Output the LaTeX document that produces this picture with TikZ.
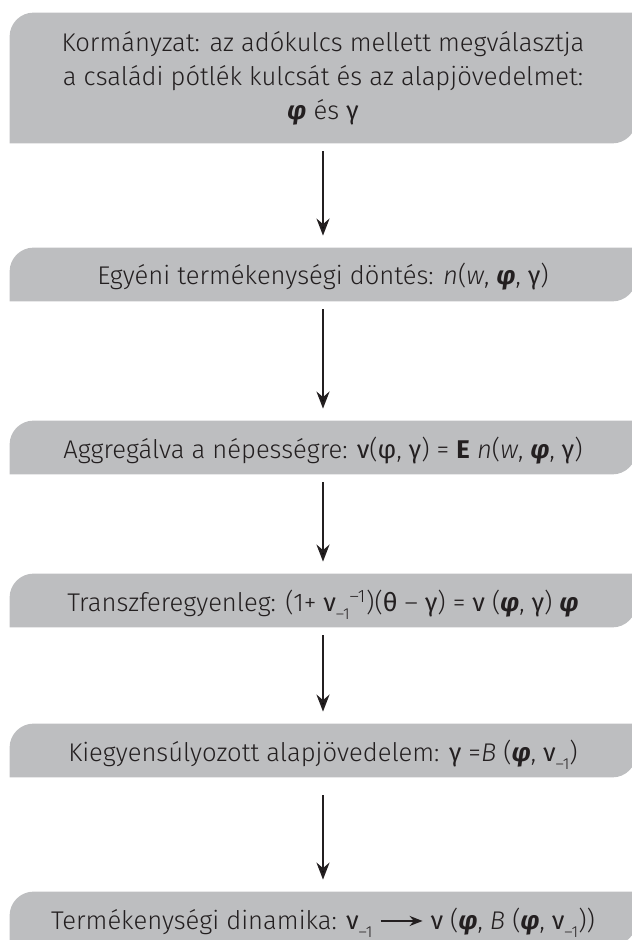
\documentclass[tikz,border=0pt]{standalone}
\usepackage{fontspec}
\setmainfont{Fira Sans}[UprightFont={* Light}, ItalicFont={* Light Italic},
  BoldFont={* Bold}, BoldItalicFont={* Bold Italic}]
\newfontfamily\grk{Fira Sans}
\usetikzlibrary{arrows.meta, backgrounds}
\definecolor{boxgray}{HTML}{BDBEC0}
\definecolor{ink}{HTML}{231F20}
\tikzset{
  box/.style={minimum width=313pt, inner sep=0pt, align=center, text=ink,
    font=\fontsize{12.8}{17}\selectfont},
  oneline/.style={minimum height=26.5pt, text height=12.5pt, text depth=2pt},
  arrow/.style={draw=ink, line width=1.15pt, -{Stealth[length=8.5pt, width=6.5pt]},
    shorten <=4pt, shorten >=6pt}
}
\newcommand{\phib}{{\bfseries\itshape φ}}
\newcommand{\gam}{{\grk γ}}
\newcommand{\nuu}{{\grk ν}}
\newcommand{\nul}{{\grk ν}\raisebox{-0.6ex}{\fontsize{8}{8}\selectfont –1}}

\begin{document}
\begin{tikzpicture}[x=0.5pt, y=-0.5pt]
\clip (0,0) rectangle (631,940);
% boxes
\node[box, minimum height=65pt] (gov) at (323,78)
  {Kormányzat: az adókulcs mellett megválasztja\\
   a családi pótlék kulcsát és az alapjövedelmet:\\
   \phib{} és \gam};
\node[box, oneline] (choice) at (323,274.5)
  {Egyéni termékenységi döntés: \textit{n}(\textit{w}, \phib, \gam)};
\node[box, oneline] (aggr) at (323,447.5)
  {Aggregálva a népességre: \nuu({\grk φ}, \gam) = \textbf{E} \textit{n}(\textit{w}, \phib, \gam)};
\node[box, oneline] (transfer) at (323,600.5)
  {Transzferegyenleg: (1+ \nul\textsuperscript{–1})({\grk θ} – \gam) = \nuu{} (\phib, \gam) \phib};
\node[box, oneline] (basic) at (323,750.5)
  {Kiegyensúlyozott alapjövedelem: \gam{} =\textit{B} (\phib, \nul)};
\node[box, oneline] (dyn) at (323,918.5)
  {Termékenységi dinamika: \nul{}
   \tikz[baseline=-0.6ex]\draw[ink, line width=1pt, -{Stealth[length=6.5pt, width=5pt]}] (0pt,0pt) -- (21pt,0pt);
   \nuu{} (\phib, \textit{B} (\phib, \nul))};
% grey background, rounded top left and bottom right
\begin{scope}[on background layer]
\foreach \n in {gov, choice, aggr, transfer, basic, dyn}
  \fill[boxgray] (\n.south west) -- ([yshift=-12pt]\n.north west)
    arc[start angle=180, end angle=90, radius=12pt] -- (\n.north east)
    -- ([yshift=12pt]\n.south east)
    arc[start angle=0, end angle=-90, radius=12pt] -- cycle;
\end{scope}
% arrows
\draw[arrow] (gov) -- (choice);
\draw[arrow] (choice) -- (aggr);
\draw[arrow] (aggr) -- (transfer);
\draw[arrow] (transfer) -- (basic);
\draw[arrow, shorten <=9pt] (basic) -- (dyn);
\end{tikzpicture}
\end{document}
